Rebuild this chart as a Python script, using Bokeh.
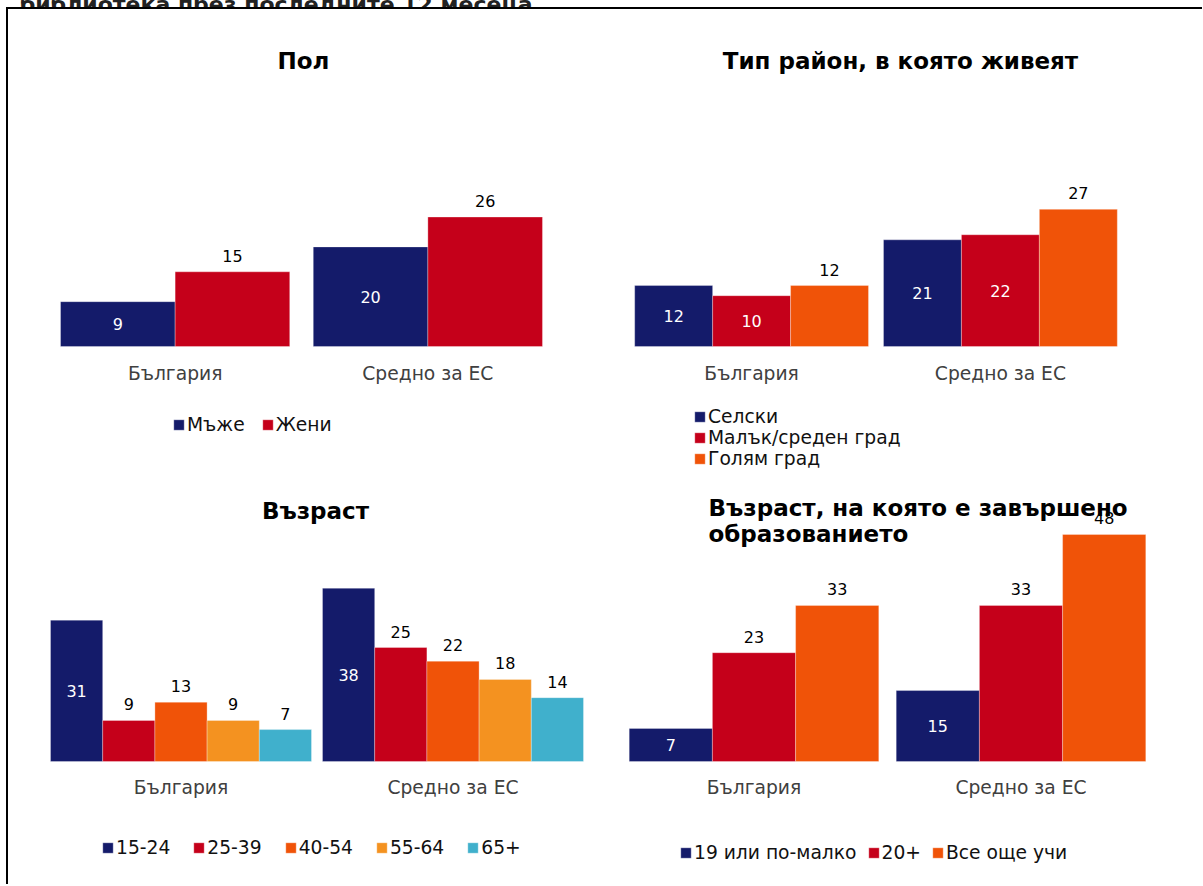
from bokeh.plotting import figure
from bokeh.models import ColumnDataSource, FactorRange, Range1d, Label, Legend, LegendItem, Div
from bokeh.transform import dodge
from bokeh.layouts import row, column
from bokeh.core.properties import value
from bokeh.embed import file_html
from bokeh.resources import INLINE

# ---------------- data ----------------
page_title = "библиотека през последните 12 месеца"
groups = ["България", "Средно за ЕС"]

sex_title = "Пол"
sex_series = ["Мъже", "Жени"]
sex_values = [[9, 20], [15, 26]]

area_title = "Тип район, в която живеят"
area_series = ["Селски", "Малък/среден град", "Голям град"]
area_values = [[12, 21], [10, 22], [12, 27]]

age_title = "Възраст"
age_series = ["15-24", "25-39", "40-54", "55-64", "65+"]
age_values = [[31, 38], [9, 25], [13, 22], [9, 18], [7, 14]]

edu_title = "Възраст, на която е завършено\nобразованието"
edu_series = ["19 или по-малко", "20+", "Все още учи"]
edu_values = [[7, 15], [23, 33], [33, 48]]

# ---------------- style ----------------
NAVY, RED, ORANGE, LORANGE, CYAN = "#141B6A", "#C5001A", "#F05308", "#F49220", "#40B0CC"
FONT = value("DejaVu Sans")
LBL_SIZE = "18.7px"


def panel(title, series, values, colors, inside, origin, W, H, L, base, unit, c0, scale,
          title_xy, title_align, leg_xy, leg_orient, leg_spacing, bar_px, cat_off):
    ox, oy = origin
    base_c = base - oy
    c0_c = c0 - ox
    pad = (c0_c - L) / unit - 0.5
    F = (2 + 2 * pad) * unit
    R = int(round(W - L - F))
    xr = FactorRange(*groups, range_padding=pad, range_padding_units="absolute")
    p = figure(width=W, height=H, x_range=xr,
               y_range=Range1d(-(H - base_c) / scale, base_c / scale),
               output_backend="svg", toolbar_location=None,
               x_axis_location=None, y_axis_location=None, title_location=None,
               min_border_left=L, min_border_right=R, min_border_top=0,
               min_border_bottom=0, outline_line_color=None,
               border_fill_color="white", background_fill_color="white")
    p.xgrid.visible = False
    p.ygrid.visible = False

    # category labels under the bars
    cat = ColumnDataSource(dict(g=groups, y=[0] * len(groups)))
    p.text(x="g", y="y", text="g", source=cat, text_font=FONT,
           text_font_size=LBL_SIZE, text_color="#404040",
           text_align="center", text_baseline="middle", y_offset=cat_off)

    n = len(series)
    w = bar_px / unit
    items = []
    for i, (name, vals, col) in enumerate(zip(series, values, colors)):
        off = (i - (n - 1) / 2) * w
        inner = i in inside
        src = ColumnDataSource(dict(
            g=groups, v=vals,
            ty=[v / 2 for v in vals] if inner else vals,
            t=[str(v) for v in vals]))
        r = p.vbar(x=dodge("g", off, range=xr), top="v", width=w, source=src,
                   fill_color=col, line_color="white", line_alpha=0.3, line_width=1)
        p.text(x=dodge("g", off, range=xr), y="ty", text="t", source=src,
               text_font=FONT, text_font_size="16px",
               text_color="white" if inner else "black",
               text_align="center", text_baseline="middle",
               y_offset=0 if inner else -16)
        items.append(LegendItem(label=name, renderers=[r]))

    tx, ty = title_xy
    p.add_layout(Label(x=tx - ox - L, y=H - (ty - oy), x_units="screen", y_units="screen",
                       text=title, text_font="DejaVu Sans", text_font_size="23px",
                       text_font_style="bold", text_color="black",
                       text_align=title_align,
                       text_baseline="middle" if title_align == "center" else "top",
                       text_line_height=1.0))

    lx, ly = leg_xy
    leg = Legend(items=items, location=(lx - ox - L, H - (ly - oy)), orientation=leg_orient,
                 glyph_width=13, glyph_height=13, label_standoff=2,
                 spacing=leg_spacing, padding=0, margin=0,
                 border_line_alpha=0, background_fill_alpha=0,
                 label_text_font="DejaVu Sans", label_text_font_size=LBL_SIZE,
                 label_text_color="#111111", label_height=20)
    p.add_layout(leg)
    return p


W1, W2, H1, H2 = 600, 600, 461, 414

# geometry below is given in page pixels: (origin, width, height, left border,
# baseline y, px per category, first category centre x, px per unit, ...)
p1 = panel(sex_title, sex_series, sex_values, [NAVY, RED], [0],
           (8, 9), W1, H1, 18, 346, 252.5, 174.5, 4.98,
           (303, 60), "center", (172, 435), "horizontal", 16, 114.5, 27)
p2 = panel(area_title, area_series, area_values, [NAVY, RED, ORANGE], [0, 1],
           (608, 9), W2, H1, 15, 346, 249.0, 751.2, 5.08,
           (900, 60), "center", (693, 469), "vertical", 0, 78.0, 27)
p3 = panel(age_title, age_series, age_values, [NAVY, RED, ORANGE, LORANGE, CYAN], [0],
           (8, 470), W1, H2, 18, 761, 272.0, 180.5, 4.56,
           (315, 510), "center", (101, 858), "horizontal", 22, 52.2, 26)
p4 = panel(edu_title, edu_series, edu_values, [NAVY, RED, ORANGE], [0],
           (608, 470), W2, H2, 10, 761, 267.0, 753.5, 4.73,
           (708, 494), "left", (679, 863), "horizontal", 10, 83.2, 26)

# page title, cut off by the top edge as in the reference
head = Div(text=('<div style="font: bold 22px \'DejaVu Sans\'; color: #222; '
                 'white-space: nowrap; margin: -15px 0 0 14px; line-height: normal;">'
                 + page_title + '</div>'),
           width=1196, height=7, margin=0, styles={"overflow": "hidden"})
top_line = Div(text="", width=1196, height=2, margin=0,
               styles={"background-color": "black"})
left_line = Div(text="", width=2, height=H1 + H2, margin=0,
                styles={"background-color": "black"})

layout = column(head, top_line,
                row(left_line, column(row(p1, p2), row(p3, p4))))
layout.styles = {"margin-left": "6px"}

open("out.html", "w").write(file_html(layout, INLINE))
